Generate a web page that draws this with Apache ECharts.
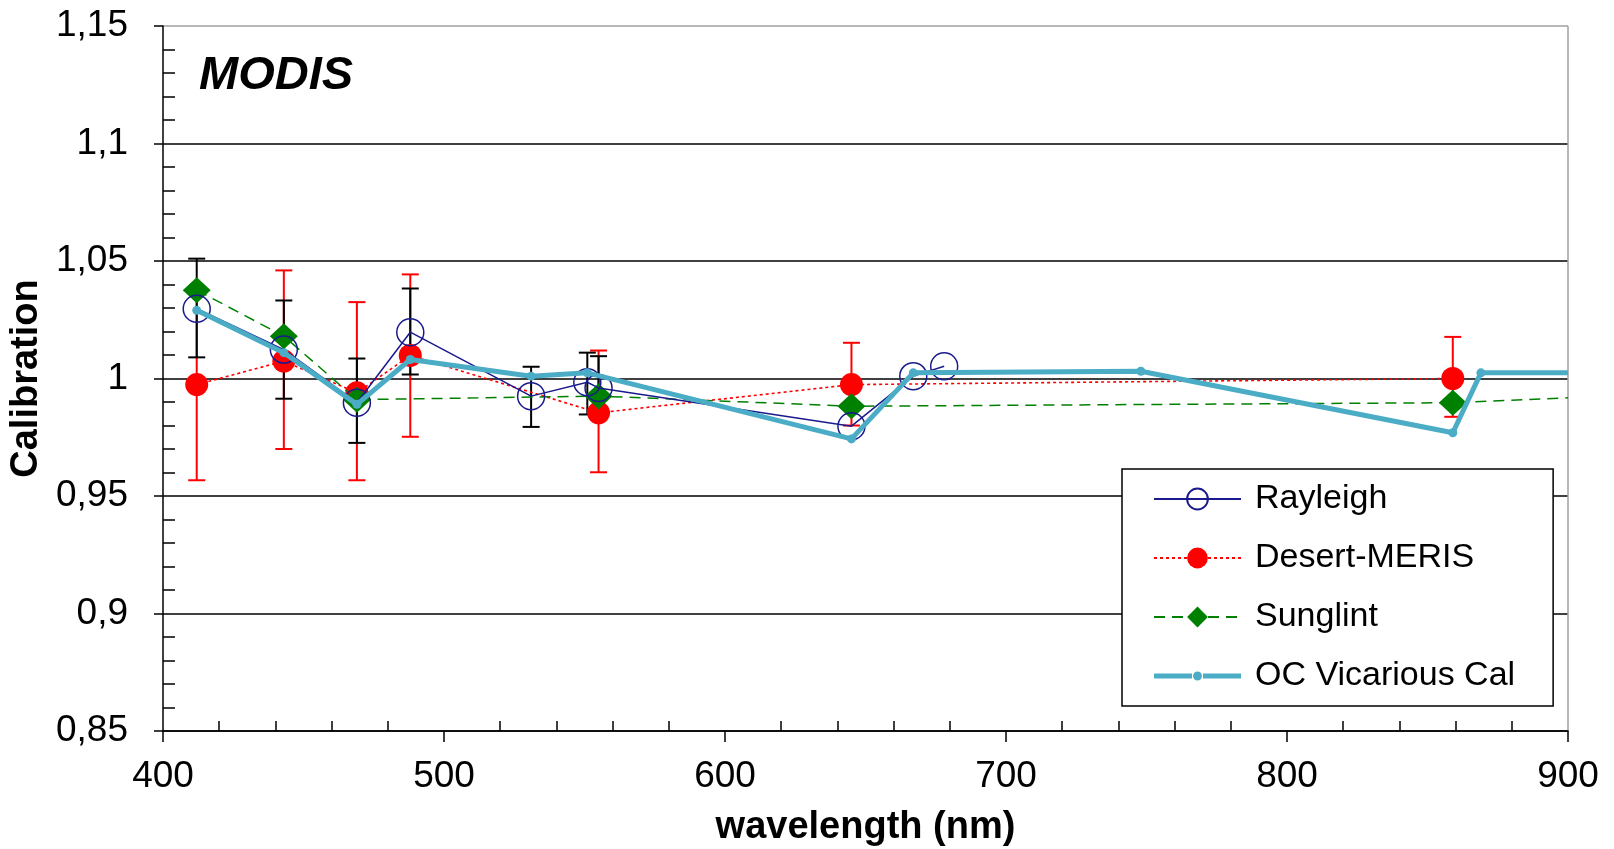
<!DOCTYPE html>
<html><head><meta charset="utf-8">
<script src="https://cdn.jsdelivr.net/npm/echarts@6/dist/echarts.min.js"></script>
<style>html,body{margin:0;padding:0;background:#fff}#c{width:1614px;height:849px}</style>
</head><body><div id="c"></div><script>
// ---- data (wavelength nm, calibration) ----
const rayleigh = [[412,1.0297],[443,1.0123],[469,0.9897],[488,1.0197],[531,0.9925],[551,0.9984],[555,0.9960],[645,0.9797],[667,1.0010],[678,1.0052]];
const rayleighErr = [[412,1.009,1.051],[443,0.9914,1.0332],[469,0.9726,1.0085],[488,1.0017,1.0383],[531,0.9794,1.005],[551,0.9847,1.011],[555,0.983,1.0095]];
const desert = [[412,0.9974],[443,1.0074],[469,0.9939],[488,1.0098],[555,0.9854],[645,0.9974],[859,1.0000]];
const desertErr = [[412,0.9567,1.038],[443,0.970,1.046],[469,0.9567,1.0325],[488,0.9752,1.0443],[555,0.9601,1.0119],[645,0.980,1.0152],[859,0.9837,1.0177]];
const sunglint = [[412,1.0376],[443,1.0180],[469,0.9910],[555,0.9925],[645,0.9882],[859,0.9897]];
const sunglintEdge = [900,0.9918];
const ocCal = [[412,1.0290],[443,1.0110],[469,0.9890],[488,1.0081],[531,1.0010],[551,1.0024],[645,0.9743],[667,1.0024],[748,1.0031],[859,0.9769],[869,1.0024]];
const ocCalEdge = [900,1.0024];
const yTickLabels = ['0,85','0,9','0,95','1','1,05','1,1','1,15'];
const xTickLabels = ['400','500','600','700','800','900'];

const FONT = "'Liberation Sans', Arial, sans-serif";
const chart = echarts.init(document.getElementById('c'));

function errRender(color) {
  return function (params, api) {
    const x = api.value(0), lo = api.value(1), hi = api.value(2);
    const pLo = api.coord([x, lo]), pHi = api.coord([x, hi]);
    const w = 8.5;
    const st = { stroke: color, lineWidth: 2 };
    return { type: 'group', children: [
      { type: 'line', shape: { x1: pLo[0], y1: pLo[1], x2: pHi[0], y2: pHi[1] }, style: st },
      { type: 'line', shape: { x1: pLo[0]-w, y1: pLo[1], x2: pLo[0]+w, y2: pLo[1] }, style: st },
      { type: 'line', shape: { x1: pHi[0]-w, y1: pHi[1], x2: pHi[0]+w, y2: pHi[1] }, style: st }
    ]};
  };
}

const axisLineStyle = { color: '#000', width: 1.5 };
const option = {
  animation: false,
  backgroundColor: '#fff',
  title: { text: 'MODIS', left: 199, top: 53, padding: 0,
    textStyle: { fontFamily: FONT, fontSize: 47, fontWeight: 'bold', fontStyle: 'italic', color: '#000' } },
  grid: { left: 163, right: 46, top: 26, bottom: 118, containLabel: false, outerBoundsMode: 'none' },
  legend: {
    orient: 'vertical', left: 1122, top: 469,
    padding: [12, 38, 12, 31], itemGap: 23, itemWidth: 87, itemHeight: 26,
    backgroundColor: '#fff', borderColor: '#000', borderWidth: 1.5, borderRadius: 0,
    symbolKeepAspect: true,
    textStyle: { fontFamily: FONT, fontSize: 34, lineHeight: 36, color: '#000', padding: [0, 0, 0, 9] },
    data: [
      { name: 'Rayleigh' },
      { name: 'Desert-MERIS' },
      { name: 'Sunglint' },
      { name: 'OC Vicarious Cal', icon: 'path://M0,11 L38,11 L38,16 L0,16 Z M49,11 L87,11 L87,16 L49,16 Z M43.5,9 C46,9 48,11 48,13.5 C48,16 46,18 43.5,18 C41,18 39,16 39,13.5 C39,11 41,9 43.5,9 Z' }
    ]
  },
  xAxis: [
    { type: 'value', min: 400, max: 900, interval: 100,
      name: 'wavelength (nm)', nameLocation: 'middle', nameGap: 78,
      nameTextStyle: { fontFamily: FONT, fontSize: 38, fontWeight: 'bold', color: '#000' },
      axisLine: { show: true, lineStyle: axisLineStyle },
      axisTick: { show: true, inside: false, length: 11, lineStyle: axisLineStyle },
      axisLabel: { margin: 27, fontFamily: FONT, fontSize: 37, color: '#000',
        formatter: (v) => xTickLabels[Math.round((v - 400) / 100)] },
      splitLine: { show: true, lineStyle: { color: ['transparent','transparent','transparent','transparent','transparent','#a0a0a0'], width: 1.5 } }
    },
    { type: 'value', min: 400, max: 900, interval: 100, position: 'bottom',
      axisLine: { show: false }, axisLabel: { show: false },
      axisTick: { show: false, inside: true },
      minorTick: { show: true, splitNumber: 5, length: 10, lineStyle: axisLineStyle },
      splitLine: { show: false }
    }
  ],
  yAxis: [
    { type: 'value', min: 0.85, max: 1.15, interval: 0.05,
      name: 'Calibration', nameLocation: 'middle', nameGap: 112, nameRotate: 90,
      nameTextStyle: { fontFamily: FONT, fontSize: 38, fontWeight: 'bold', color: '#000' },
      axisLine: { show: true, lineStyle: axisLineStyle },
      axisTick: { show: true, inside: false, length: 9, lineStyle: axisLineStyle },
      axisLabel: { margin: 35, fontFamily: FONT, fontSize: 37, color: '#000',
        formatter: (v) => yTickLabels[Math.round((v - 0.85) / 0.05)] },
      splitLine: { show: true, lineStyle: { color: ['#000','#000','#000','#000','#000','#000','#a0a0a0'], width: 1.5 } }
    },
    { type: 'value', min: 0.85, max: 1.15, interval: 0.05, position: 'left',
      axisLine: { show: false }, axisLabel: { show: false },
      axisTick: { show: false, inside: true },
      minorTick: { show: true, splitNumber: 5, length: 12, lineStyle: axisLineStyle },
      splitLine: { show: false }
    }
  ],
  series: [
    { type: 'custom', renderItem: errRender('#ff0000'), data: desertErr, encode: { x: 0, y: [1, 2] }, z: 1, silent: true },
    { type: 'custom', renderItem: errRender('#000000'), data: rayleighErr, encode: { x: 0, y: [1, 2] }, z: 1, silent: true },
    { name: 'Desert-MERIS', type: 'line', data: desert, z: 3,
      symbol: 'circle', symbolSize: 23,
      lineStyle: { color: '#ff0000', width: 1.6, type: [3, 3] },
      itemStyle: { color: '#ff0000' } },
    { name: 'Sunglint', type: 'line', z: 4,
      data: sunglint.map(p => p).concat([{ value: sunglintEdge, symbol: 'none' }]),
      symbol: 'diamond', symbolSize: [28, 26],
      lineStyle: { color: '#008000', width: 1.5, type: [11, 7] },
      itemStyle: { color: '#008000' } },
    { name: 'Rayleigh', type: 'line', data: rayleigh, z: 5,
      symbol: 'circle', symbolSize: 27,
      lineStyle: { color: '#1a1a8c', width: 1.5 },
      itemStyle: { color: 'rgba(255,255,255,0)', borderColor: '#1a1a8c', borderWidth: 1.5 } },
    { name: 'OC Vicarious Cal', type: 'line', z: 6,
      data: ocCal.map(p => p).concat([{ value: ocCalEdge, symbol: 'none' }]),
      symbol: 'circle', symbolSize: 9,
      lineStyle: { color: '#4bacc6', width: 5 },
      itemStyle: { color: '#4bacc6' } }
  ]
};
chart.setOption(option);
</script></body></html>
